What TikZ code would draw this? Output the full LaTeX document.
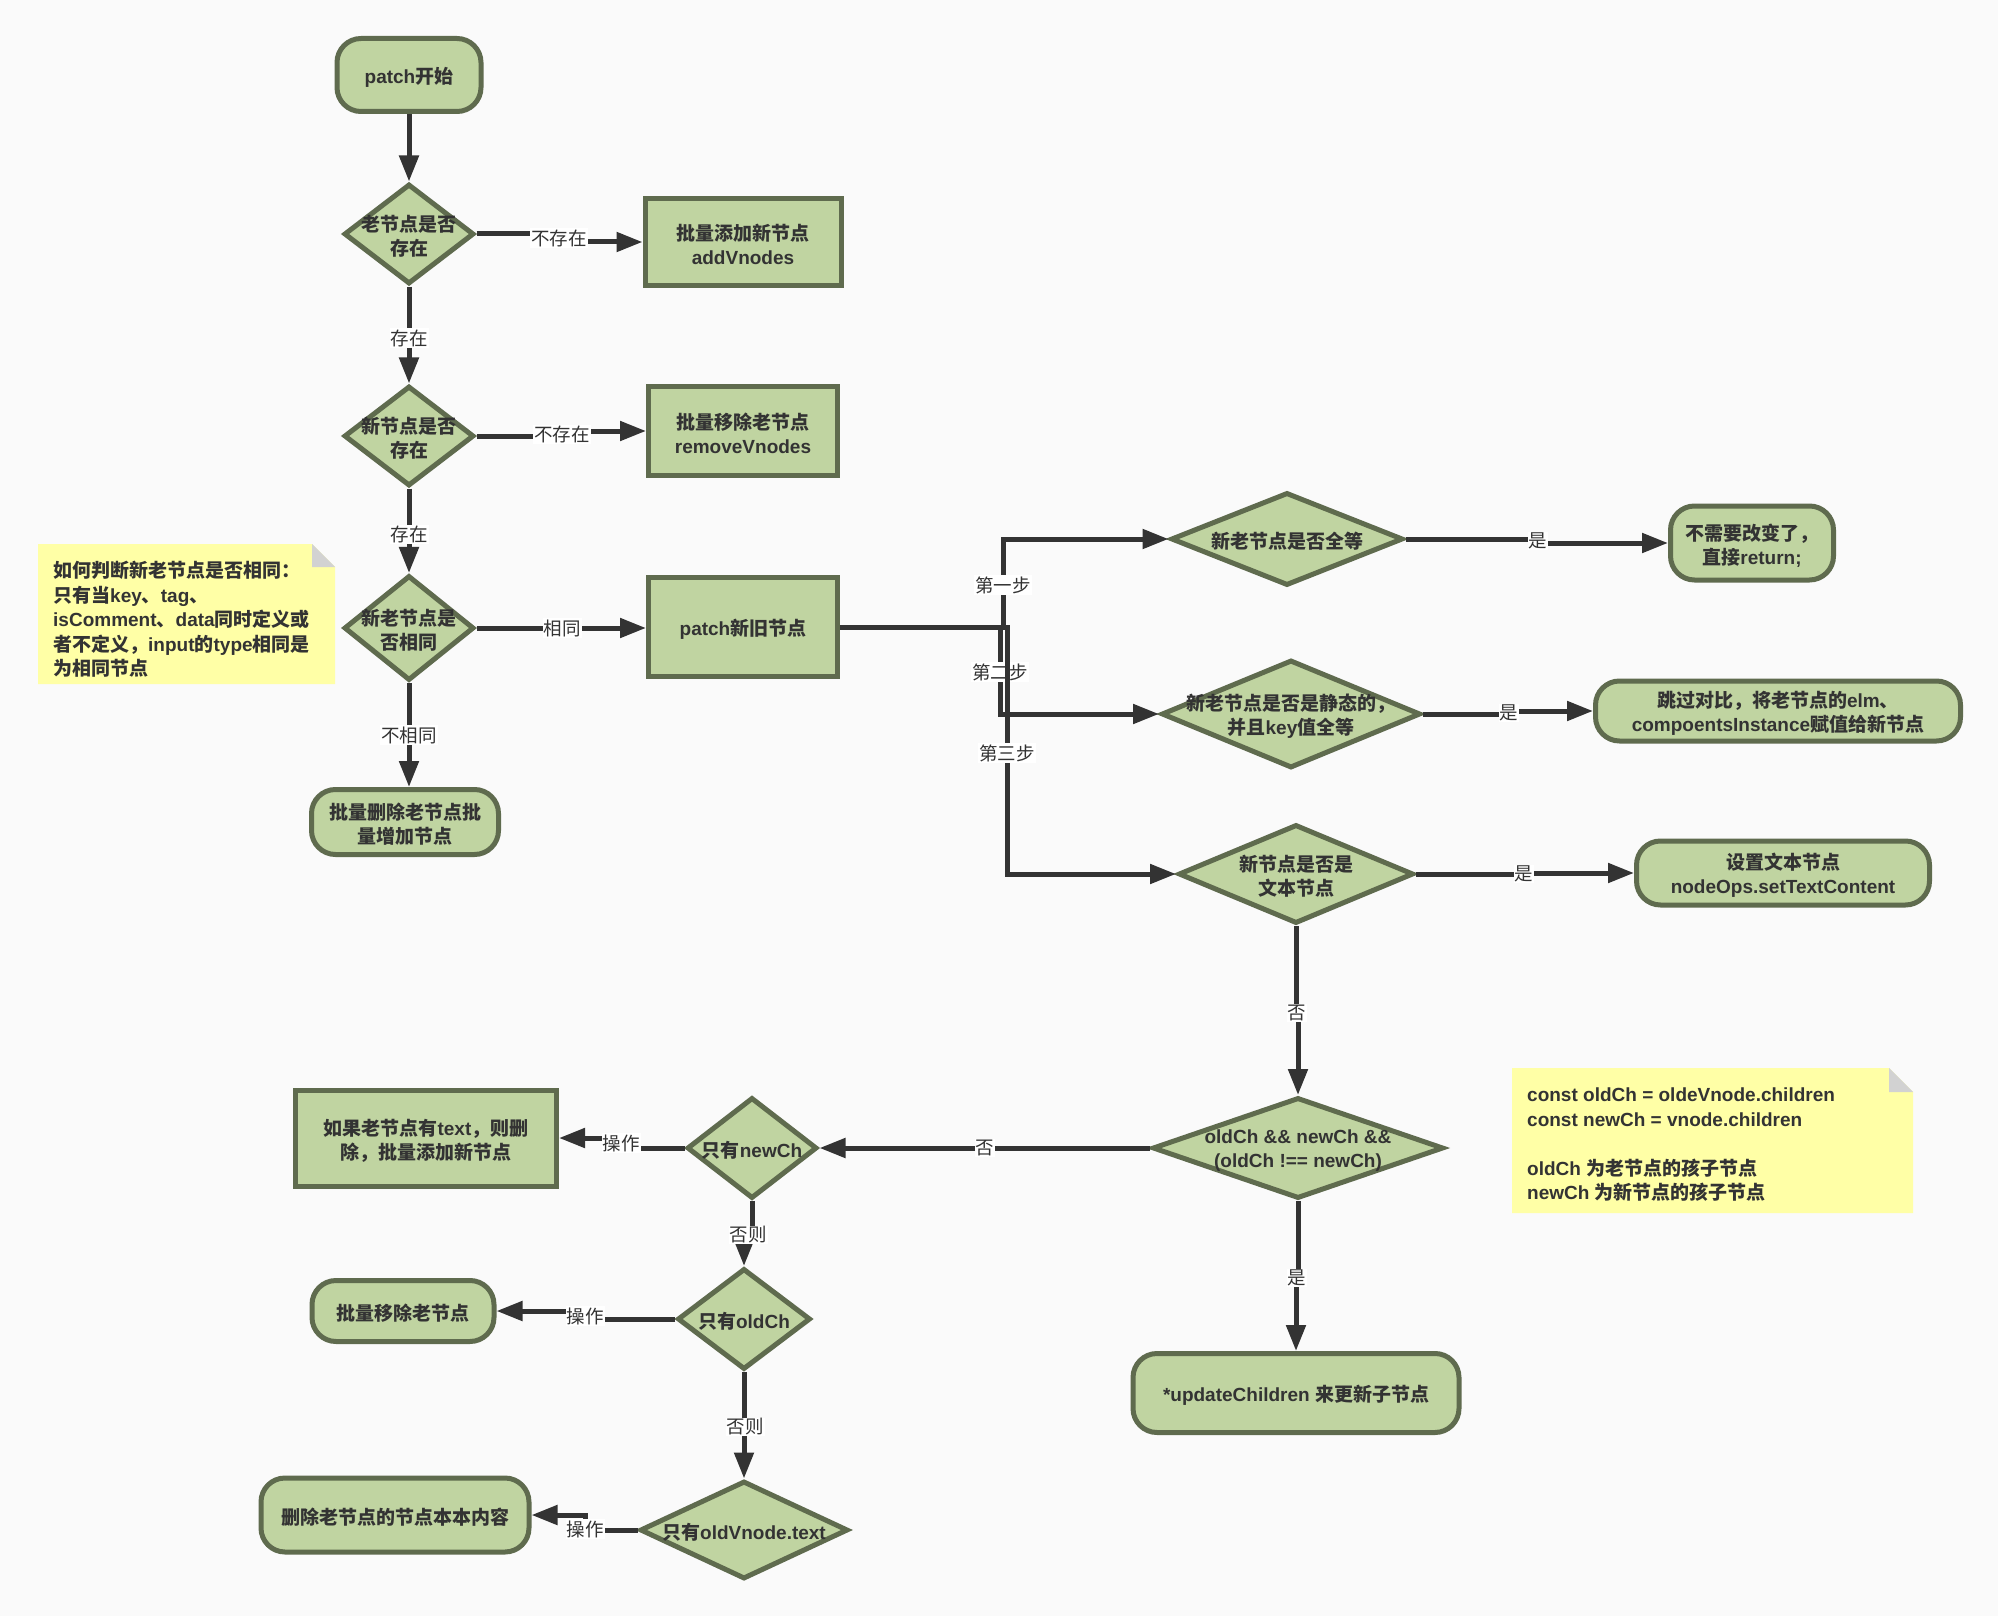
\documentclass[tikz,border=0pt]{standalone}
\usepackage{fontspec}
\setmainfont{Liberation Sans}
\newfontfamily\latinfont{Liberation Sans}
\newfontfamily\cjkfont{Noto Sans CJK SC}
\usetikzlibrary{shapes.geometric,arrows.meta}
\XeTeXinterchartokenstate=1
\chardef\cjkclass=42
\makeatletter
\count@="3000
\loop \XeTeXcharclass\count@=\cjkclass \ifnum\count@<"303F \advance\count@ 1 \repeat
\count@="4E00
\loop \XeTeXcharclass\count@=\cjkclass \ifnum\count@<"9FFF \advance\count@ 1 \repeat
\count@="FF00
\loop \XeTeXcharclass\count@=\cjkclass \ifnum\count@<"FFEF \advance\count@ 1 \repeat
\makeatother
\XeTeXinterchartoks 0 \cjkclass = {\cjkfont}
\XeTeXinterchartoks 4095 \cjkclass = {\cjkfont}
\XeTeXinterchartoks \cjkclass 0 = {\latinfont}
\XeTeXinterchartoks \cjkclass 4095 = {\latinfont}
\definecolor{bgc}{HTML}{FAFAFA}
\definecolor{nfill}{HTML}{C0D4A1}
\definecolor{ndraw}{HTML}{5F6B4E}
\definecolor{lnc}{HTML}{333333}
\definecolor{notec}{HTML}{FFFFA6}
\definecolor{foldc}{HTML}{D2D2D2}
\definecolor{txtc}{HTML}{333333}
\tikzset{
  base/.style={draw=ndraw, fill=nfill, line width=5pt, inner sep=0pt},
  boxnode/.style={base, rectangle},
  term/.style={base, rectangle, rounded corners=24pt},
  dia/.style={base, diamond},
  dtext/.style={text=txtc, font=\bfseries\fontsize{19}{24}\selectfont, align=center, inner sep=0pt, yshift=-2.5pt},
  conn/.style={draw=lnc, line width=5pt, -{Triangle[length=26pt,width=19pt]}},
  elbl/.style={fill=white, text=txtc, inner sep=1pt, font=\fontsize{18.5}{22}\selectfont},
  notetext/.style={text=txtc, font=\bfseries\fontsize{19}{24.5}\selectfont, align=left, inner sep=0pt, anchor=north west},
}
\begin{document}
\begin{tikzpicture}[x=1pt,y=-1pt]
\fill[bgc] (0,0) rectangle (1998,1616);
% notes
\fill[notec] (38,544) -- (312,544) -- (335,567) -- (335,684) -- (38,684) -- cycle;
\fill[foldc] (312,544) -- (312,567) -- (335,567) -- cycle;
\node[notetext] (n1t) at (53,561) {如何判断新老节点是否相同：\\只有当key、tag、\\isComment、data同时定义或\\者不定义，input的type相同是\\为相同节点};
\fill[notec] (1512,1068) -- (1889,1068) -- (1913,1092) -- (1913,1213) -- (1512,1213) -- cycle;
\fill[foldc] (1889,1068) -- (1889,1092) -- (1913,1092) -- cycle;
\node[notetext] (n2t) at (1527,1088) {const oldCh = oldeVnode.children\\const newCh = vnode.children\\[24.5pt]oldCh 为老节点的孩子节点\\newCh 为新节点的孩子节点};
% left column
\node[term, minimum width=144pt, minimum height=73pt, label={[dtext]center:patch开始}] (start) at (409,75) {};
\node[dia, minimum width=130pt, minimum height=100pt, label={[dtext]center:老节点是否\\存在}] (d1) at (409,234) {};
\node[boxnode, minimum width=196pt, minimum height=87pt, label={[dtext]center:批量添加新节点\\addVnodes}] (add) at (743,242) {};
\node[dia, minimum width=130pt, minimum height=100pt, label={[dtext]center:新节点是否\\存在}] (d2) at (409,436) {};
\node[boxnode, minimum width=189pt, minimum height=89pt, label={[dtext]center:批量移除老节点\\removeVnodes}] (rem) at (743,431) {};
\node[dia, minimum width=130pt, minimum height=105pt, label={[dtext]center:新老节点是\\否相同}] (d3) at (409,628) {};
\node[boxnode, minimum width=189pt, minimum height=99pt, label={[dtext]center:patch新旧节点}] (pb) at (743,627) {};
\node[term, minimum width=187pt, minimum height=65pt, label={[dtext]center:批量删除老节点批\\量增加节点}] (t3) at (405,822) {};
% right column
\node[dia, minimum width=232pt, minimum height=93pt, label={[dtext]center:新老节点是否全等}] (d4) at (1287,539) {};
\node[term, minimum width=163pt, minimum height=74pt, label={[dtext]center:不需要改变了，\\直接return;}] (t4) at (1752,543) {};
\node[dia, minimum width=259pt, minimum height=108pt, label={[dtext]center:新老节点是否是静态的，\\并且key值全等}] (d5) at (1291,714) {};
\node[term, minimum width=365pt, minimum height=60pt, label={[dtext]center:跳过对比，将老节点的elm、\\compoentsInstance赋值给新节点}] (t5) at (1778,711) {};
\node[dia, minimum width=235pt, minimum height=99pt, label={[dtext]center:新节点是否是\\文本节点}] (d6) at (1296,874) {};
\node[term, minimum width=293pt, minimum height=64pt, label={[dtext]center:设置文本节点\\nodeOps.setTextContent}] (t6) at (1783,873) {};
\node[dia, minimum width=291pt, minimum height=101pt, label={[dtext]center:oldCh \&\& newCh \&\&\\(oldCh !== newCh)}] (d7) at (1298,1148) {};
\node[term, minimum width=326pt, minimum height=79pt, label={[dtext]center:*updateChildren 来更新子节点}] (t7) at (1296,1393) {};
% bottom left
\node[dia, minimum width=130pt, minimum height=101pt, label={[dtext]center:只有newCh}] (d8) at (752,1148) {};
\node[boxnode, minimum width=261pt, minimum height=96pt, label={[dtext]center:如果老节点有text，则删\\除，批量添加新节点}] (b8) at (426,1138) {};
\node[dia, minimum width=133pt, minimum height=101pt, label={[dtext]center:只有oldCh}] (d9) at (744,1319) {};
\node[term, minimum width=182pt, minimum height=61pt, label={[dtext]center:批量移除老节点}] (t9) at (403,1311) {};
\node[dia, minimum width=208pt, minimum height=98pt, label={[dtext]center:只有oldVnode.text}] (d10) at (744,1530) {};
\node[term, minimum width=268pt, minimum height=74pt, label={[dtext]center:删除老节点的节点本本内容}] (t10) at (395,1515) {};
% label coordinates
\coordinate (c1) at (559,238);
\coordinate (c2) at (409,338);
\coordinate (c3) at (562,434);
\coordinate (c4) at (409,534);
\coordinate (c5) at (562,628);
\coordinate (c6) at (409,735);
\coordinate (s1) at (1003,585);
\coordinate (s2) at (1000,672);
\coordinate (s3) at (1007,753);
\coordinate (c10) at (1538,541);
\coordinate (c11) at (1509,713);
\coordinate (c12) at (1524,874);
\coordinate (c13) at (1297,1013);
\coordinate (c14) at (1297,1278);
\coordinate (c15) at (985,1148);
\coordinate (c16) at (621,1143);
\coordinate (c17) at (748,1235);
\coordinate (c18) at (585,1316);
\coordinate (c19) at (745,1427);
\coordinate (c20) at (585,1529);
% connectors
\draw[conn] (start) -- (d1);
\draw[conn] (d1.east) -- (d1.east -| c1) -- (c1 |- add.west) -- (add.west);
\node[elbl] (l1) at (c1) {不存在};
\draw[conn] (d1) -- (d2);
\node[elbl] (l2) at (c2) {存在};
\draw[conn] (d2.east) -- (d2.east -| c3) -- (c3 |- rem.west) -- (rem.west);
\node[elbl] (l3) at (c3) {不存在};
\draw[conn] (d2) -- (d3);
\node[elbl] (l4) at (c4) {存在};
\draw[conn] (d3.east) -- (d3.east -| pb.west);
\node[elbl] (l5) at (c5) {相同};
\draw[conn] (d3.south) -- (d3.south |- t3.north);
\node[elbl] (l6) at (c6) {不相同};
\draw[conn] (pb.east) -- (pb.east -| s2) -- (s2 |- d5.west) -- (d5.west);
\node[elbl] (l8) at (s2) {第二步};
\draw[conn] (pb.east) -- (pb.east -| s3) -- (s3 |- d6.west) -- (d6.west);
\node[elbl] (l9) at (s3) {第三步};
\draw[conn] (pb.east) -- (pb.east -| s1) -- (s1 |- d4.west) -- (d4.west);
\node[elbl] (l7) at (s1) {第一步};
\draw[conn] (d4.east) -- (d4.east -| c10) -- (c10 |- t4.west) -- (t4.west);
\node[elbl] (l10) at (c10) {是};
\draw[conn] (d5.east) -- (d5.east -| c11) -- (c11 |- t5.west) -- (t5.west);
\node[elbl] (l11) at (c11) {是};
\draw[conn] (d6.east) -- (d6.east -| c12) -- (c12 |- t6.west) -- (t6.west);
\node[elbl] (l12) at (c12) {是};
\draw[conn] (d6.south) -- (d6.south |- c13) -- (c13 -| d7.north) -- (d7.north);
\node[elbl] (l13) at (c13) {否};
\draw[conn] (d7.south) -- (d7.south |- c14) -- (c14 -| t7.north) -- (t7.north);
\node[elbl] (l14) at (c14) {是};
\draw[conn] (d7.west) -- (d8.east);
\node[elbl] (l15) at (c15) {否};
\draw[conn] (d8.west) -- (d8.west -| c16) -- (c16 |- b8.east) -- (b8.east);
\node[elbl] (l16) at (c16) {操作};
\draw[conn] (d8.south) -- (d8.south |- c17) -- (c17 -| d9.north) -- (d9.north);
\node[elbl] (l17) at (c17) {否则};
\draw[conn] (d9.west) -- (d9.west -| c18) -- (c18 |- t9.east) -- (t9.east);
\node[elbl] (l18) at (c18) {操作};
\draw[conn] (d9.south) -- (d10.north);
\node[elbl] (l19) at (c19) {否则};
\draw[conn] (d10.west) -- (d10.west -| c20) -- (c20 |- t10.east) -- (t10.east);
\node[elbl] (l20) at (c20) {操作};
\end{tikzpicture}
\end{document}
